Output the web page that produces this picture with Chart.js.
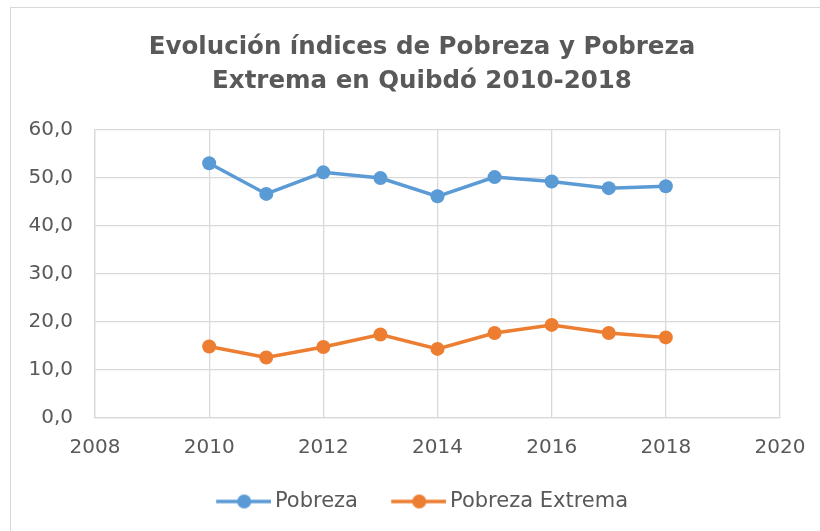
<!DOCTYPE html>
<html>
<head>
<meta charset="utf-8">
<script src="https://cdn.jsdelivr.net/npm/chart.js@4.4.0/dist/chart.umd.min.js"></script>
<style>
  html, body { margin: 0; padding: 0; background: #fff; overflow: hidden; }
  #box { position: absolute; left: 10px; top: 7px; width: 822px; height: 545px; border: 1px solid #d9d9d9; background: #fff; }
</style>
</head>
<body>
<div id="box"><canvas id="chart" width="822" height="545"></canvas></div>
<script>
// data
var years = [2010, 2011, 2012, 2013, 2014, 2015, 2016, 2017, 2018]
var pobreza = [53.1, 46.7, 51.2, 50.0, 46.2, 50.2, 49.3, 47.9, 48.3]
var pobrezaExtrema = [14.9, 12.6, 14.8, 17.4, 14.4, 17.7, 19.4, 17.7, 16.8]
var seriesNames = ['Pobreza', 'Pobreza Extrema']
var titleLines = ['Evolución índices de Pobreza y Pobreza', 'Extrema en Quibdó 2010-2018']
var xMin = 2008, xMax = 2020, xStep = 2
var yMin = 0, yMax = 60, yStep = 10

var BLUE = '#5B9BD5'
var ORANGE = '#ED7D31'
var TEXT = '#595959'
var GRID = '#d9d9d9'
var FONT = "'DejaVu Sans', Verdana, sans-serif"

function points(xs, ys) {
  return xs.map(function (x, i) { return {x: x, y: ys[i]} })
}

// line + marker icon like the Excel legend
function legendIcon(color) {
  var c = document.createElement('canvas')
  c.width = 62
  c.height = 16
  var ctx = c.getContext('2d')
  ctx.strokeStyle = color
  ctx.lineWidth = 3.5
  ctx.beginPath()
  ctx.moveTo(7, 8)
  ctx.lineTo(62, 8)
  ctx.stroke()
  ctx.fillStyle = color
  ctx.beginPath()
  ctx.arc(35, 8, 7, 0, Math.PI * 2)
  ctx.fill()
  return c
}
var icons = [legendIcon(BLUE), legendIcon(ORANGE)]

function lineSet(label, ys, color) {
  return {
    label: label,
    data: points(years, ys),
    borderColor: color,
    backgroundColor: color,
    borderWidth: 3.5,
    pointRadius: 7,
    pointHoverRadius: 7,
    pointBorderWidth: 0,
    pointBackgroundColor: color,
    tension: 0
  }
}

var chart = new Chart(document.getElementById('chart'), {
  type: 'line',
  data: {
    datasets: [
      lineSet(seriesNames[0], pobreza, BLUE),
      lineSet(seriesNames[1], pobrezaExtrema, ORANGE)
    ]
  },
  options: {
    responsive: false,
    animation: false,
    layout: {padding: {left: 0, right: 0, top: 0, bottom: 31}},
    plugins: {
      title: {
        display: true,
        text: titleLines,
        color: TEXT,
        font: {family: FONT, size: 24.5, weight: 'bold', lineHeight: 1.4},
        padding: {top: 22, bottom: 31.5}
      },
      legend: {
        position: 'bottom',
        labels: {
          color: TEXT,
          font: {family: FONT, size: 21},
          usePointStyle: true,
          pointStyleWidth: 48.5,
          boxHeight: 14,
          padding: 33,
          generateLabels: function (c) {
            var items = Chart.defaults.plugins.legend.labels.generateLabels(c)
            items.forEach(function (it) { it.pointStyle = icons[it.datasetIndex] })
            return items
          }
        }
      },
      tooltip: {enabled: false}
    },
    scales: {
      x: {
        type: 'linear',
        min: xMin,
        max: xMax,
        afterFit: function (s) { s.height = 40 },
        ticks: {
          stepSize: xStep,
          color: TEXT,
          font: {family: FONT, size: 20},
          padding: 18,
          callback: function (v) { return String(v) }
        },
        grid: {color: GRID, lineWidth: 1.3, drawTicks: false},
        border: {color: GRID, width: 1.3}
      },
      y: {
        min: yMin,
        max: yMax,
        afterFit: function (s) { s.width = 84 },
        ticks: {
          stepSize: yStep,
          color: TEXT,
          font: {family: FONT, size: 20},
          padding: 22,
          callback: function (v) { return v.toFixed(1).replace('.', ',') }
        },
        grid: {color: GRID, lineWidth: 1.3, drawTicks: false},
        border: {color: GRID, width: 1.3}
      },
      // empty right-hand spacer so the title and legend stay centred on the whole box
      spacer: {
        position: 'right',
        min: yMin,
        max: yMax,
        afterFit: function (s) { s.width = 53 },
        ticks: {display: false},
        grid: {display: false, drawOnChartArea: false},
        border: {display: false}
      }
    }
  }
})
</script>
</body>
</html>
